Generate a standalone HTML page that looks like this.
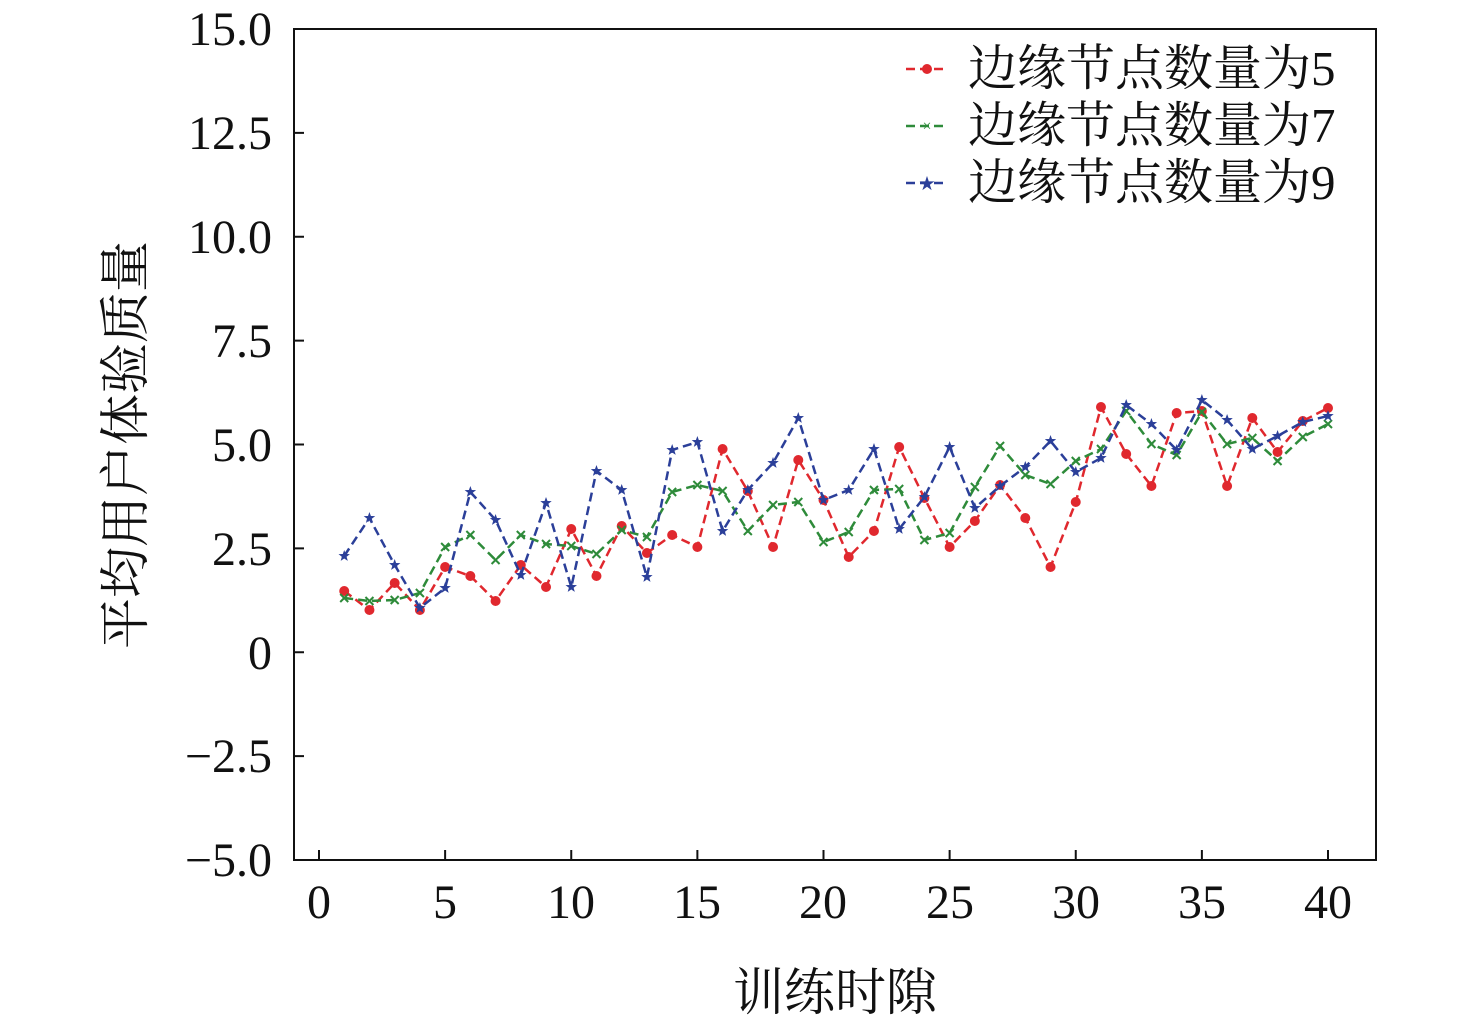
<!DOCTYPE html>
<html><head><meta charset="utf-8"><style>
body{margin:0;background:#fff;}
svg{display:block;}
text{font-family:"Liberation Serif","Times New Roman",Times,"Noto Serif CJK SC",serif;fill:#111;}
</style></head><body>
<svg id="s" width="1476" height="1025" xmlns="http://www.w3.org/2000/svg">
<rect x="294" y="29" width="1082" height="831" fill="none" stroke="#111" stroke-width="2"/>
<g font-size="48" text-anchor="end">
<text x="272" y="45">15.0</text>
<text x="272" y="149">12.5</text>
<text x="272" y="253">10.0</text>
<text x="272" y="357">7.5</text>
<text x="272" y="461">5.0</text>
<text x="272" y="565">2.5</text>
<text x="272" y="669">0</text>
<text x="272" y="772">−2.5</text>
<text x="272" y="876">−5.0</text>
</g>
<g font-size="48" text-anchor="middle">
<text x="319" y="918">0</text>
<text x="445" y="918">5</text>
<text x="571" y="918">10</text>
<text x="697" y="918">15</text>
<text x="823" y="918">20</text>
<text x="950" y="918">25</text>
<text x="1076" y="918">30</text>
<text x="1202" y="918">35</text>
<text x="1328" y="918">40</text>
</g>
<text x="835" y="1010" font-size="51" text-anchor="middle">训练时隙</text>
<text transform="translate(143,445) rotate(-90)" font-size="51" text-anchor="middle">平均用户体验质量</text>
<g id="ticks" stroke="#111" stroke-width="2"></g>
<g id="series"></g>
<g font-size="49">
<line x1="906" y1="69" x2="948" y2="69" stroke="#e0282e" stroke-width="2.5" stroke-dasharray="9,5"/>
<circle cx="927" cy="69" r="5" fill="#e0282e"/>
<text x="968" y="85">边缘节点数量为5</text>
<line x1="906" y1="126" x2="948" y2="126" stroke="#2e8b3a" stroke-width="2.5" stroke-dasharray="9,5"/>
<text x="927" y="131" font-size="16" text-anchor="middle" style="fill:#2e8b3a">×</text>
<text x="968" y="142">边缘节点数量为7</text>
<line x1="906" y1="183" x2="948" y2="183" stroke="#2b3f99" stroke-width="2.5" stroke-dasharray="9,5"/>
<text x="927" y="189" font-size="16" text-anchor="middle" style="fill:#2b3f99">★</text>
<text x="968" y="199">边缘节点数量为9</text>
</g>
</svg>
<script>
var NS="http://www.w3.org/2000/svg";
function el(t,a,p){var e=document.createElementNS(NS,t);for(var k in a)e.setAttribute(k,a[k]);p.appendChild(e);return e;}
var tk=document.getElementById('ticks');
for(var i=0;i<=8;i++){var x=319+i*126.125;el('line',{x1:x,y1:860,x2:x,y2:850},tk);}
for(var i=0;i<=8;i++){var y=29+i*103.875;el('line',{x1:294,y1:y,x2:304,y2:y},tk);}
var R=[591,610,583,610,567,576,601,565,587,529,576,526,553,535,547,449,491,547,460,500,557,531,447,498,547,521,485,518,567,502,407,454,486,413,411,486,418,452,421,408];
var G=[598,601,600,593,547,535,560,535,544,546,554,530,537,492,485,491,531,505,502,542,532,490,489,540,533,487,446,475,484,461,449,411,444,455,412,444,438,461,437,424];
var B=[556,518,565,608,588,492,520,575,503,587,471,490,577,450,442,531,490,463,418,500,490,449,529,497,447,508,486,467,441,472,458,405,424,450,400,420,449,436,422,416];
var sg=document.getElementById('series');
function draw(d,c,m){var pts=d.map(function(y,i){return (319+25.225*(i+1)).toFixed(1)+","+y;}).join(" ");
el('polyline',{points:pts,fill:"none",stroke:c,"stroke-width":2.5,"stroke-dasharray":"9,5"},sg);
d.forEach(function(y,i){var x=319+25.225*(i+1);
if(m=='o')el('circle',{cx:x,cy:y,r:5,fill:c},sg);
else if(m=='x'){el('path',{d:"M"+(x-4)+","+(y-4)+"L"+(x+4)+","+(y+4)+"M"+(x-4)+","+(y+4)+"L"+(x+4)+","+(y-4),stroke:c,"stroke-width":2},sg);}
else{var p=[];for(var k=0;k<10;k++){var r=k%2?2.5:6,a=-Math.PI/2+k*Math.PI/5;p.push((x+r*Math.cos(a)).toFixed(1)+","+(y+r*Math.sin(a)).toFixed(1));}el('polygon',{points:p.join(" "),fill:c},sg);}
});}
draw(R,"#e0282e","o");draw(G,"#2e8b3a","x");draw(B,"#2b3f99","s");
</script>
</body></html>
